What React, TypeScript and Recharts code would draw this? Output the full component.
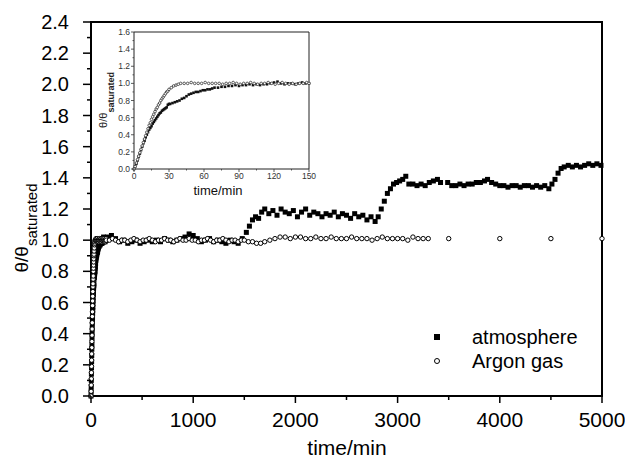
import { ScatterChart, Scatter, XAxis, YAxis, ReferenceArea, Legend } from 'recharts';

const FONT = '"Liberation Sans", Arial, Helvetica, sans-serif';

const seriesNames = ['atmosphere', 'Argon gas'];

// atmosphere run: [time/min, θ/θsaturated]
const atmosphereData: [number, number][] = [
  [0, 0.0], [1, 0.03], [2, 0.06], [3, 0.1], [4, 0.14], [5, 0.18], [6, 0.22], [7, 0.26], [8, 0.3], [9, 0.33],
  [10, 0.37], [11, 0.4], [12, 0.43], [13, 0.46], [14, 0.48], [15, 0.5], [16, 0.53], [17, 0.55], [18, 0.57],
  [19, 0.59], [20, 0.61], [21, 0.63], [22, 0.65], [23, 0.66], [24, 0.68], [25, 0.69], [26, 0.7], [27, 0.71],
  [28, 0.72], [29, 0.75], [30, 0.76], [31, 0.76], [33, 0.77], [35, 0.78], [37, 0.79], [39, 0.8], [41, 0.82],
  [43, 0.83], [45, 0.85], [47, 0.87], [49, 0.88], [51, 0.89], [53, 0.9], [55, 0.9], [57, 0.91], [59, 0.92],
  [61, 0.92], [63, 0.93], [65, 0.93], [67, 0.94], [69, 0.95], [72, 0.95], [75, 0.96], [78, 0.96], [81, 0.97],
  [84, 0.97], [87, 0.98], [90, 0.97], [93, 0.98], [96, 0.98], [99, 0.99], [102, 0.98], [105, 0.99], [108, 0.98],
  [111, 0.99], [114, 0.99], [117, 1.0], [120, 1.01], [123, 1.02], [126, 1.0], [129, 0.99], [132, 1.0], [135, 1.0],
  [138, 0.99], [141, 1.0], [144, 1.01], [147, 1.0], [150, 1.0],
  [160, 1.02], [200, 1.03], [240, 1.01], [280, 0.99], [320, 1.0], [360, 0.98], [400, 0.99], [440, 1.0],
  [480, 0.98], [520, 0.99], [560, 1.0], [600, 0.99], [640, 1.0], [680, 0.99], [720, 1.01], [760, 1.0],
  [800, 0.99], [840, 1.0], [880, 1.01], [920, 1.02], [960, 1.04], [1000, 1.03], [1040, 1.01], [1080, 0.99],
  [1120, 1.0], [1160, 1.01], [1200, 0.99], [1240, 1.0], [1280, 0.99], [1320, 0.98], [1360, 1.0], [1400, 0.99],
  [1440, 0.98], [1480, 1.01], [1520, 1.05], [1550, 1.09], [1580, 1.13], [1610, 1.15], [1640, 1.14], [1670, 1.18],
  [1700, 1.2], [1740, 1.17], [1780, 1.19], [1820, 1.16], [1860, 1.2], [1900, 1.18], [1940, 1.17], [1980, 1.19],
  [2020, 1.15], [2060, 1.18], [2100, 1.2], [2140, 1.16], [2180, 1.18], [2220, 1.17], [2260, 1.15], [2300, 1.17],
  [2340, 1.16], [2380, 1.18], [2420, 1.15], [2460, 1.17], [2500, 1.16], [2540, 1.14], [2580, 1.17], [2620, 1.15],
  [2660, 1.16], [2700, 1.13], [2740, 1.15], [2780, 1.12], [2810, 1.15], [2840, 1.2], [2870, 1.25], [2900, 1.3],
  [2930, 1.33], [2960, 1.36], [2990, 1.37], [3020, 1.38], [3050, 1.39], [3080, 1.41], [3110, 1.36], [3150, 1.36],
  [3190, 1.35], [3230, 1.36], [3270, 1.35], [3310, 1.37], [3350, 1.38], [3390, 1.39], [3420, 1.37], [3490, 1.37],
  [3530, 1.35], [3570, 1.35], [3610, 1.36], [3650, 1.35], [3690, 1.36], [3730, 1.36], [3770, 1.37], [3810, 1.37],
  [3850, 1.38], [3880, 1.39], [3920, 1.37], [3960, 1.36], [4000, 1.35], [4040, 1.35], [4080, 1.34], [4120, 1.35],
  [4160, 1.35], [4200, 1.34], [4240, 1.35], [4280, 1.35], [4320, 1.34], [4360, 1.35], [4400, 1.34], [4440, 1.35],
  [4480, 1.33], [4510, 1.36], [4540, 1.39], [4570, 1.43], [4600, 1.46], [4630, 1.47], [4670, 1.48], [4710, 1.47],
  [4750, 1.48], [4790, 1.47], [4830, 1.48], [4870, 1.49], [4910, 1.48], [4950, 1.49], [4990, 1.48],
];

// argon gas run: [time/min, θ/θsaturated]
const argonData: [number, number][] = [
  [0, 0.0], [1, 0.03], [2, 0.07], [3, 0.11], [4, 0.15], [5, 0.19], [6, 0.23], [7, 0.27], [8, 0.31], [9, 0.35],
  [10, 0.39], [11, 0.43], [12, 0.47], [13, 0.51], [14, 0.54], [15, 0.58], [16, 0.61], [17, 0.64], [18, 0.67],
  [19, 0.7], [20, 0.72], [21, 0.75], [22, 0.77], [23, 0.8], [24, 0.82], [25, 0.84], [26, 0.86], [27, 0.88],
  [28, 0.9], [29, 0.91], [30, 0.93], [32, 0.95], [34, 0.97], [36, 0.98], [38, 0.99], [40, 1.0], [43, 1.0],
  [46, 1.0], [49, 1.01], [52, 1.0], [55, 1.0], [58, 1.0], [61, 1.01], [64, 1.0], [67, 1.0], [70, 1.0], [73, 1.0],
  [76, 0.99], [79, 1.0], [82, 1.0], [85, 1.01], [88, 1.0], [91, 0.99], [94, 1.0], [97, 1.0], [100, 1.01],
  [103, 1.0], [106, 0.99], [109, 1.0], [112, 1.0], [115, 1.01], [118, 1.0], [121, 0.99], [124, 1.0], [127, 1.01],
  [130, 1.0], [133, 0.99], [136, 1.0], [139, 0.99], [142, 1.0], [145, 1.0], [148, 1.01], [150, 1.0],
  [180, 1.0], [210, 1.01], [240, 1.0], [270, 0.99], [300, 1.0], [330, 1.0], [360, 0.99], [390, 1.0], [420, 1.01],
  [450, 1.0], [480, 0.99], [510, 1.0], [540, 1.0], [570, 1.01], [600, 1.0], [630, 0.99], [660, 1.0], [690, 1.0],
  [720, 1.01], [750, 1.0], [780, 1.0], [810, 0.99], [840, 1.0], [870, 1.01], [900, 1.0], [930, 1.0], [960, 1.01],
  [990, 1.0], [1020, 1.0], [1050, 0.99], [1080, 1.0], [1110, 1.0], [1140, 1.01], [1170, 1.0], [1200, 0.99],
  [1230, 1.0], [1260, 1.0], [1290, 1.01], [1320, 1.0], [1350, 0.99], [1380, 1.0], [1410, 1.0], [1440, 0.99],
  [1470, 1.0], [1500, 1.0], [1540, 0.99], [1580, 0.99], [1620, 0.98], [1660, 0.98], [1700, 0.99], [1750, 1.0],
  [1800, 1.01], [1850, 1.02], [1900, 1.02], [1950, 1.01], [2000, 1.02], [2050, 1.02], [2100, 1.01], [2150, 1.01],
  [2200, 1.02], [2250, 1.01], [2300, 1.01], [2350, 1.02], [2400, 1.01], [2450, 1.01], [2500, 1.01], [2550, 1.02],
  [2600, 1.01], [2650, 1.01], [2700, 1.01], [2750, 1.0], [2800, 1.01], [2850, 1.02], [2900, 1.01], [2950, 1.01],
  [3000, 1.01], [3050, 1.01], [3100, 1.0], [3150, 1.02], [3200, 1.01], [3250, 1.01], [3300, 1.01],
  [3500, 1.01], [4000, 1.01], [4500, 1.01], [5000, 1.01],
];

const mainXTicks = [0, 500, 1000, 1500, 2000, 2500, 3000, 3500, 4000, 4500, 5000];
const mainYTicks = [
  0, 0.1, 0.2, 0.3, 0.4, 0.5, 0.6, 0.7, 0.8, 0.9, 1.0, 1.1, 1.2, 1.3, 1.4, 1.5, 1.6, 1.7, 1.8, 1.9, 2.0, 2.1, 2.2,
  2.3, 2.4,
];
const insetXTicks = [0, 15, 30, 45, 60, 75, 90, 105, 120, 135, 150];
const insetYTicks = [0, 0.1, 0.2, 0.3, 0.4, 0.5, 0.6, 0.7, 0.8, 0.9, 1.0, 1.1, 1.2, 1.3, 1.4, 1.5, 1.6];

const toPoints = (rows: [number, number][]) => rows.map(([t, v]) => ({ t, v }));
const atmosphere = toPoints(atmosphereData);
const argon = toPoints(argonData);
const atmosphereInset = toPoints(atmosphereData.filter(([t]) => t <= 150));
const argonInset = toPoints(argonData.filter(([t]) => t <= 150));

const isEven = (v: number, step: number) => Math.round(v / step) % 2 === 0;

// main axes ticks (tickSize/tickMargin 0 so x / y sit on the axis)
const mainYTick = (p: any) => {
  const v = p.payload.value;
  const major = isEven(v, 0.1);
  return (
    <g>
      <line x1={p.x - (major ? 8 : 4)} x2={p.x} y1={p.y} y2={p.y} stroke="#000" strokeWidth={1.5} />
      {major && (
        <text x={p.x - 22} y={p.y + 7} textAnchor="end" fontSize={20} fontFamily={FONT} fill="#000">
          {v.toFixed(1)}
        </text>
      )}
    </g>
  );
};

const mainXTick = (p: any) => {
  const v = p.payload.value;
  const major = isEven(v, 500);
  return (
    <g>
      <line x1={p.x} x2={p.x} y1={p.y} y2={p.y + (major ? 7 : 4)} stroke="#000" strokeWidth={1.5} />
      {major && (
        <text x={p.x} y={p.y + 31} textAnchor="middle" fontSize={21} fontFamily={FONT} fill="#000">
          {v}
        </text>
      )}
    </g>
  );
};

const insetYTick = (p: any) => {
  const v = p.payload.value;
  const major = isEven(v, 0.1);
  return (
    <g>
      <line x1={p.x - (major ? 3 : 1.5)} x2={p.x} y1={p.y} y2={p.y} stroke="#333" strokeWidth={0.8} />
      {major && (
        <text x={p.x - 4} y={p.y + 3} textAnchor="end" fontSize={8.5} fontFamily={FONT} fill="#333">
          {v.toFixed(1)}
        </text>
      )}
    </g>
  );
};

const insetXTick = (p: any) => {
  const v = p.payload.value;
  const major = isEven(v, 15);
  return (
    <g>
      <line x1={p.x} x2={p.x} y1={p.y} y2={p.y + (major ? 3 : 1.5)} stroke="#333" strokeWidth={0.8} />
      {major && (
        <text x={p.x} y={p.y + 10} textAnchor="middle" fontSize={8.5} fontFamily={FONT} fill="#333">
          {v}
        </text>
      )}
    </g>
  );
};

const squareShape = (size: number, color: string) => (p: any) => (
  <rect x={p.cx - size / 2} y={p.cy - size / 2} width={size} height={size} fill={color} />
);
const ringShape = (r: number, color: string, sw: number) => (p: any) => (
  <circle cx={p.cx} cy={p.cy} r={r} fill="#fff" stroke={color} strokeWidth={sw} />
);

function LegendBox({ payload }: any) {
  const items = [...(payload || [])].sort(
    (a: any, b: any) => seriesNames.indexOf(a.value) - seriesNames.indexOf(b.value),
  );
  return (
    <div style={{ fontFamily: FONT, fontSize: 20, color: '#000' }}>
      {items.map((entry: any) => (
        <div key={entry.value} style={{ display: 'flex', alignItems: 'center', height: 24, lineHeight: '24px' }}>
          <svg width={42} height={24}>
            {entry.value === seriesNames[0] ? (
              <rect x={4} y={9} width={6} height={6} fill="#000" />
            ) : (
              <circle cx={7} cy={12} r={2.5} fill="#fff" stroke="#000" strokeWidth={1} />
            )}
          </svg>
          <span>{entry.value}</span>
        </div>
      ))}
    </div>
  );
}

// axis titles, drawn once on top of both charts
function AxisTitles() {
  return (
    <svg width={625} height={463} style={{ position: 'absolute', left: 0, top: 0, pointerEvents: 'none' }}>
      <text transform="translate(28,228) rotate(-90)" textAnchor="middle" fontFamily={FONT} fill="#000">
        <tspan fontSize={19}>θ/θ</tspan>
        <tspan fontSize={15} dy={9}>saturated</tspan>
      </text>
      <text x={347} y={455} textAnchor="middle" fontSize={21} fontFamily={FONT} fill="#000">
        time/min
      </text>
      <text transform="translate(107,100) rotate(-90)" textAnchor="middle" fontFamily={FONT} fill="#222">
        <tspan fontSize={11}>θ/θ</tspan>
        <tspan fontSize={9} fontWeight="bold" dy={7}>saturated</tspan>
      </text>
      <text x={218} y={195} textAnchor="middle" fontSize={13} fontFamily={FONT} fill="#111">
        time/min
      </text>
    </svg>
  );
}

export default function App() {
  return (
    <div style={{ position: 'relative', width: 625, height: 463, background: '#fff', overflow: 'hidden' }}>
      <style>{'body{margin:0}'}</style>
      <ScatterChart width={625} height={463} margin={{ top: 22, right: 23, bottom: 0, left: 0 }}>
        <XAxis
          type="number"
          dataKey="t"
          domain={[0, 5000]}
          ticks={mainXTicks}
          interval={0}
          height={67}
          axisLine={false}
          tickLine={false}
          tickSize={0}
          tickMargin={0}
          tick={mainXTick}
        />
        <YAxis
          type="number"
          dataKey="v"
          domain={[0, 2.4]}
          ticks={mainYTicks}
          interval={0}
          width={91}
          axisLine={false}
          tickLine={false}
          tickSize={0}
          tickMargin={0}
          tick={mainYTick}
        />
        <ReferenceArea x1={0} x2={5000} y1={0} y2={2.4} fill="none" stroke="#000" strokeWidth={2} />
        <Scatter name={seriesNames[0]} data={atmosphere} shape={squareShape(5, '#000')} isAnimationActive={false} />
        <Scatter name={seriesNames[1]} data={argon} shape={ringShape(2.2, '#000', 1)} isAnimationActive={false} />
        <Legend
          layout="vertical"
          align="center"
          verticalAlign="middle"
          content={<LegendBox />}
          wrapperStyle={{ position: 'absolute', left: 430, top: 325, width: 'auto' }}
        />
      </ScatterChart>

      <div style={{ position: 'absolute', left: 90, top: 20 }}>
        <ScatterChart width={230} height={185} margin={{ top: 12, right: 11, bottom: 6, left: 14 }}>
          <XAxis
            type="number"
            dataKey="t"
            domain={[0, 150]}
            ticks={insetXTicks}
            interval={0}
            height={30}
            axisLine={false}
            tickLine={false}
            tickSize={0}
            tickMargin={0}
            tick={insetXTick}
          />
          <YAxis
            type="number"
            dataKey="v"
            domain={[0, 1.6]}
            ticks={insetYTicks}
            interval={0}
            width={30}
            axisLine={false}
            tickLine={false}
            tickSize={0}
            tickMargin={0}
            tick={insetYTick}
          />
          <ReferenceArea x1={0} x2={150} y1={0} y2={1.6} fill="none" stroke="#222" strokeWidth={1} />
          <Scatter data={atmosphereInset} shape={squareShape(2.6, '#111')} isAnimationActive={false} />
          <Scatter data={argonInset} shape={ringShape(1.3, '#333', 0.8)} isAnimationActive={false} />
        </ScatterChart>
      </div>

      <AxisTitles />
    </div>
  );
}
